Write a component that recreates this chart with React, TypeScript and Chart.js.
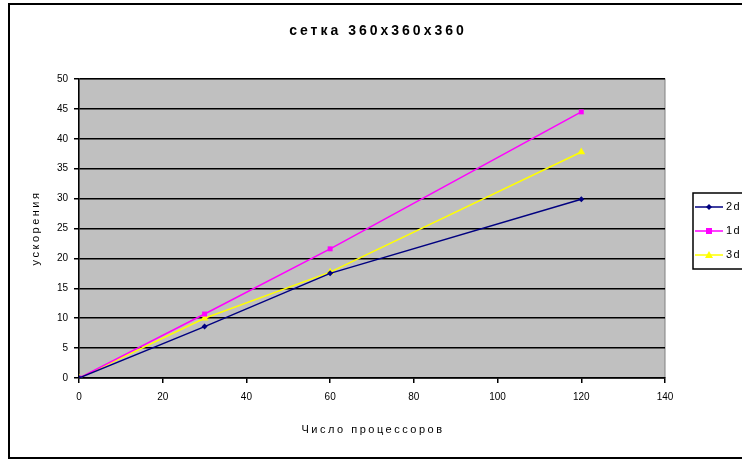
import React, { useEffect, useRef } from "react";
import { Chart, registerables } from "chart.js";

Chart.register(...registerables);

const xValues = [0, 30, 60, 120];
const series2d = [0, 8.6, 17.5, 29.9];
const series1d = [0, 10.7, 21.6, 44.5];
const series3d = [0, 10.0, 17.7, 37.8];
const seriesNames = ["2d", "1d", "3d"];
const seriesColors = ["#000080", "#FF00FF", "#FFFF00"];
const seriesMarkers = ["rectRot", "rect", "triangle"];
const chartTitle = "сетка 360x360x360";
const xTitle = "Число процессоров";
const yTitle = "ускорения";

const FONT = "'Liberation Sans', Arial, sans-serif";

const decorPlugin = {
  id: "decor",
  beforeDraw(chart: any) {
    const { ctx, chartArea } = chart;
    ctx.save();
    ctx.fillStyle = "#fff";
    ctx.fillRect(0, 0, chart.width, chart.height);
    ctx.fillStyle = "#C0C0C0";
    ctx.fillRect(chartArea.left, chartArea.top, chartArea.right - chartArea.left, chartArea.bottom - chartArea.top);
    ctx.strokeStyle = "#808080";
    ctx.lineWidth = 1;
    ctx.strokeRect(chartArea.left, chartArea.top, chartArea.right - chartArea.left, chartArea.bottom - chartArea.top);
    ctx.restore();
  },
  afterDraw(chart: any) {
    const { ctx } = chart;
    ctx.save();
    // frame
    ctx.strokeStyle = "#000";
    ctx.lineWidth = 2;
    ctx.strokeRect(9, 4, 900, 454);
    // title
    ctx.fillStyle = "#000";
    ctx.textAlign = "center";
    ctx.textBaseline = "middle";
    ctx.font = `bold 14px ${FONT}`;
    (ctx as any).letterSpacing = "3px";
    ctx.fillText(chartTitle, 378, 31);
    // x title
    ctx.font = `11px ${FONT}`;
    (ctx as any).letterSpacing = "2.5px";
    ctx.fillText(xTitle, 373, 430);
    // y title
    ctx.save();
    ctx.translate(36, 228);
    ctx.rotate(-Math.PI / 2);
    (ctx as any).letterSpacing = "2.5px";
    ctx.fillText(yTitle, 0, 0);
    ctx.restore();
    (ctx as any).letterSpacing = "0px";
    // legend
    ctx.strokeStyle = "#000";
    ctx.lineWidth = 1.5;
    ctx.strokeRect(693, 193, 120, 76);
    const ys = [207, 231, 255];
    seriesNames.forEach((name, i) => {
      const y = ys[i];
      ctx.strokeStyle = seriesColors[i];
      ctx.fillStyle = seriesColors[i];
      ctx.lineWidth = 1.5;
      ctx.beginPath();
      ctx.moveTo(695, y);
      ctx.lineTo(723, y);
      ctx.stroke();
      const mx = 709;
      ctx.beginPath();
      if (i === 0) {
        ctx.moveTo(mx, y - 3);
        ctx.lineTo(mx + 3, y);
        ctx.lineTo(mx, y + 3);
        ctx.lineTo(mx - 3, y);
      } else if (i === 1) {
        ctx.rect(mx - 3, y - 3, 6, 6);
      } else {
        ctx.moveTo(mx, y - 4);
        ctx.lineTo(mx + 4, y + 3);
        ctx.lineTo(mx - 4, y + 3);
      }
      ctx.closePath();
      ctx.fill();
      ctx.fillStyle = "#000";
      ctx.textAlign = "left";
      ctx.font = `11px ${FONT}`;
      (ctx as any).letterSpacing = "1.5px";
      ctx.fillText(name, 726, y);
      (ctx as any).letterSpacing = "0px";
    });
    ctx.restore();
  },
};

export default function App() {
  const ref = useRef<HTMLCanvasElement | null>(null);
  useEffect(() => {
    if (!ref.current) return;
    const allSeries = [series2d, series1d, series3d];
    const chart = new Chart(ref.current, {
      type: "line",
      data: {
        datasets: allSeries.map((s, i) => ({
          label: seriesNames[i],
          data: s.map((v, j) => ({ x: xValues[j], y: v })),
          borderColor: seriesColors[i],
          backgroundColor: seriesColors[i],
          borderWidth: 1.5,
          pointStyle: seriesMarkers[i] as any,
          pointRadius: i === 0 ? 3 : i === 1 ? 3.5 : 4.5,
          pointBorderWidth: 0,
          tension: 0,
        })),
      },
      options: {
        animation: false,
        responsive: false,
        events: [],
        layout: { padding: { left: 10, top: 79, right: 135, bottom: 0 } },
        plugins: {
          legend: { display: false },
          title: { display: false },
          tooltip: { enabled: false },
        },
        scales: {
          x: {
            type: "linear",
            min: 0,
            max: 140,
            ticks: {
              stepSize: 20,
              color: "#000",
              font: { family: FONT, size: 10 },
              padding: 8,
              maxRotation: 0,
            },
            grid: {
              drawOnChartArea: false,
              drawTicks: true,
              tickLength: 5,
              color: "#000",
              lineWidth: 1.5,
            },
            border: { color: "#000", width: 1.5 },
            afterFit(scale: any) {
              scale.height = 83;
            },
          },
          y: {
            min: 0,
            max: 50,
            ticks: {
              stepSize: 5,
              color: "#000",
              font: { family: FONT, size: 10 },
              padding: 6,
            },
            grid: {
              color: "#000",
              lineWidth: 1.5,
              tickLength: 5,
            },
            border: { color: "#000", width: 1.5 },
            afterFit(scale: any) {
              scale.width = 69;
            },
          },
        },
      },
      plugins: [decorPlugin],
    });
    return () => chart.destroy();
  }, []);
  return (
    <div style={{ position: "absolute", left: 0, top: 0, width: 742, height: 461, overflow: "hidden" }}>
      <canvas ref={ref} width={800} height={461} style={{ display: "block" }} />
    </div>
  );
}
